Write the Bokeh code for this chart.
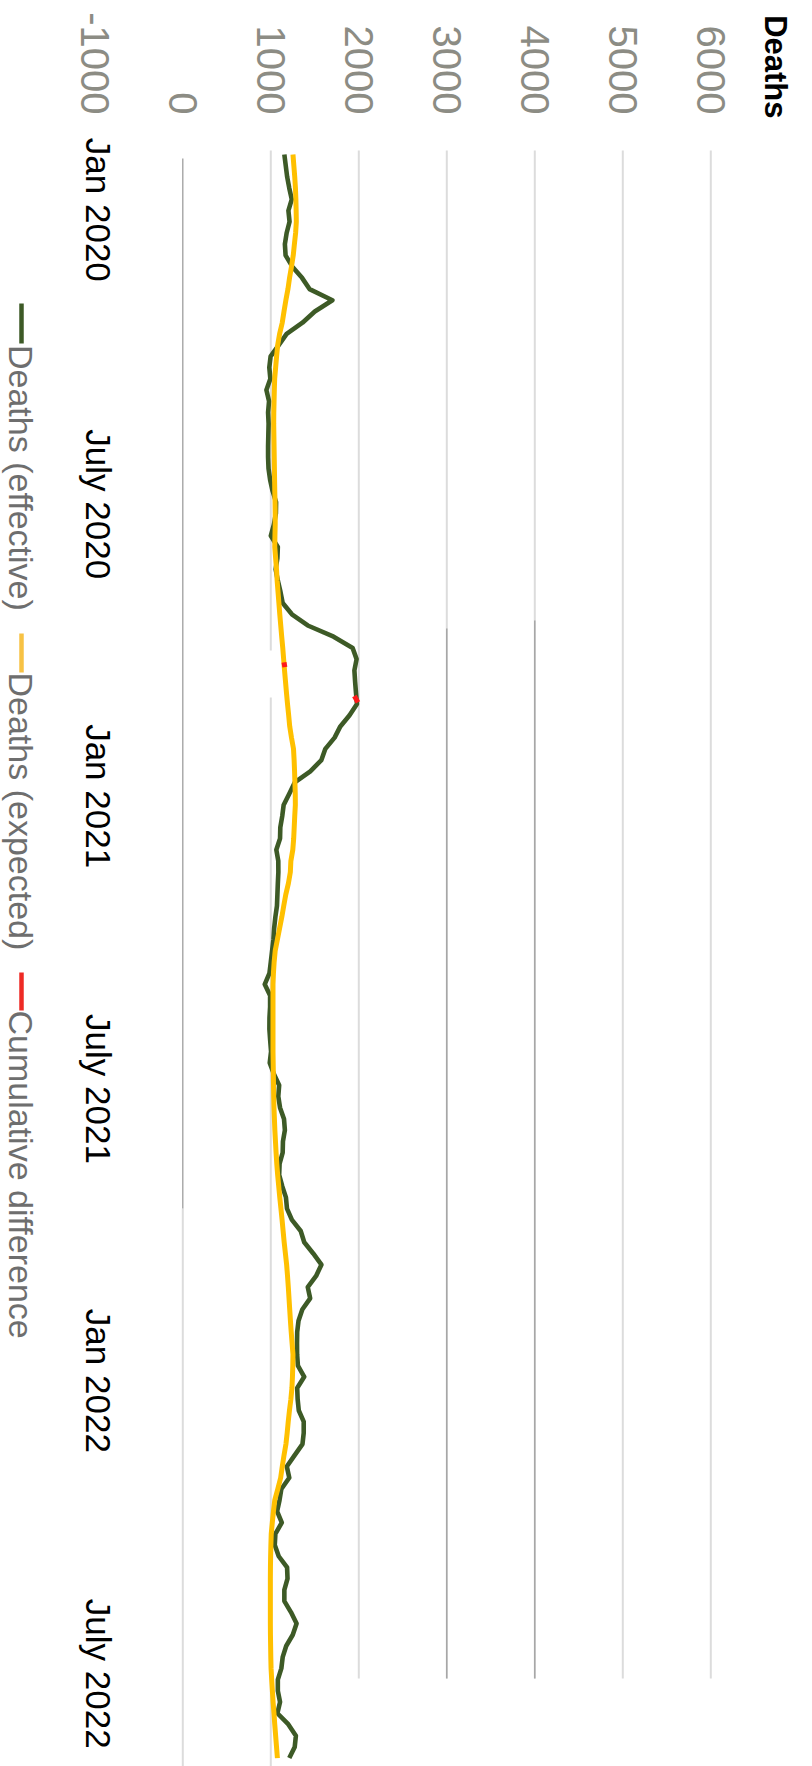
import math
from datetime import datetime, timedelta

from bokeh.plotting import figure
from bokeh.models import Range1d, Label, Arrow
from bokeh.embed import file_html
from bokeh.resources import INLINE

# ---------------- data ----------------
deaths_effective = [
    1154, 1170, 1186, 1210, 1238, 1200, 1213, 1180, 1160, 1168,
    1245, 1355, 1440, 1700, 1500, 1360, 1180, 1090, 998, 983,
    995, 950, 980, 969, 975, 972, 969, 969, 974, 992,
    1020, 1060, 1058, 1035, 1000, 1080, 1075, 1055, 1080, 1110,
    1135, 1240, 1420, 1714, 1930, 1975, 1950, 1958, 1968, 1979,
    1895, 1790, 1725, 1620, 1575, 1449, 1272, 1210, 1146, 1130,
    1108, 1105, 1063, 1085, 1086, 1080, 1075, 1070, 1052, 1038,
    1030, 1015, 1000, 985, 931, 992, 992, 985, 984, 993,
    1003, 988, 1035, 1095, 1085, 1105, 1150, 1160, 1138, 1135,
    1100, 1095, 1130, 1172, 1184, 1240, 1340, 1380, 1482, 1575,
    1515, 1420, 1447, 1358, 1315, 1300, 1298, 1299, 1308, 1380,
    1300, 1305, 1318, 1374, 1374, 1360, 1270, 1182, 1210, 1120,
    1099, 1072, 1125, 1052, 1045, 1090, 1185, 1190, 1154, 1154,
    1230, 1293, 1250, 1175, 1135, 1120, 1080, 1080, 1105, 1075,
    1200, 1285, 1272, 1210,
]
deaths_expected = [
    1252, 1262, 1272, 1280, 1285, 1288, 1290, 1282, 1268, 1255,
    1235, 1213, 1195, 1171, 1150, 1130, 1100, 1078, 1066, 1055,
    1044, 1040, 1037, 1034, 1033, 1035, 1037, 1039, 1041, 1043,
    1045, 1048, 1050, 1050, 1047, 1045, 1055, 1065, 1072, 1082,
    1092, 1102, 1113, 1124, 1136, 1146, 1156, 1167, 1178, 1190,
    1203, 1215, 1235, 1258, 1265, 1270, 1274, 1278, 1279, 1272,
    1266, 1260, 1250, 1228, 1222, 1200, 1170, 1147, 1125, 1100,
    1075, 1050, 1038, 1030, 1025, 1025, 1025, 1025, 1025, 1025,
    1025, 1027, 1029, 1031, 1033, 1036, 1041, 1046, 1053, 1060,
    1068, 1078, 1090, 1102, 1115, 1128, 1140, 1152, 1166, 1180,
    1190, 1199, 1207, 1215, 1223, 1232, 1242, 1252, 1250, 1246,
    1240, 1228, 1212, 1198, 1186, 1172, 1150, 1130, 1112, 1080,
    1045, 1030, 1017, 1005, 1001, 998, 996, 995, 995, 995,
    995, 995, 996, 998, 1000, 1003, 1010, 1018, 1026, 1036,
    1045, 1055, 1065, 1075,
]
first_week = datetime(2020, 1, 3)
week_dates = [first_week + timedelta(days=7 * i) for i in range(len(deaths_effective))]

# only tiny fragments of the cumulative-difference series are visible
cumdiff_dates = [["2020-11-15", "2020-11-18"], ["2020-12-06", "2020-12-10"]]
cumdiff_values = [[1150, 1160], [1950, 1990]]

value_ticks = [-1000, 0, 1000, 2000, 3000, 4000, 5000, 6000]
value_tick_labels = ["-1000", "0", "1000", "2000", "3000", "4000", "5000", "6000"]
grid_ticks = [1000, 2000, 3000, 4000, 5000, 6000]
date_ticks = [datetime(2020, 1, 1), datetime(2020, 7, 1), datetime(2021, 1, 1),
              datetime(2021, 7, 1), datetime(2022, 1, 1), datetime(2022, 7, 1)]
date_tick_labels = ["Jan 2020", "July 2020", "Jan 2021", "July 2021", "Jan 2022", "July 2022"]

legend_labels = ["Deaths (effective)", "Deaths (expected)", "Cumulative difference"]

# ---------------- styles / layout ----------------
GREEN = "#3d5a26"
YELLOW = "#ffc000"
RED = "#ee2a24"
FONT = "Liberation Sans"
GRID_LIGHT = "#dcdcdc"
GRID_DARK = "#9e9e9e"

W, H = 812, 1766
ZERO_X = 182.3          # pixel column of deaths = 0
PX_PER_DEATH = 0.088
FIRST_Y = 154           # pixel row of the first weekly value
PX_PER_DAY = 1.602
PLOT_TOP_Y = 150


def deaths_at(px):
    return (px - ZERO_X) / PX_PER_DEATH


def date_at(py):
    return first_week + timedelta(days=(py - FIRST_Y) / PX_PER_DAY)


p = figure(width=W, height=H, output_backend="svg", toolbar_location=None,
           x_range=Range1d(deaths_at(0), deaths_at(W)),
           y_range=Range1d(date_at(H), date_at(0)),
           x_axis_location=None, y_axis_location=None,
           min_border_left=0, min_border_right=0, min_border_top=0, min_border_bottom=0)
p.outline_line_color = None
p.xgrid.visible = False
p.ygrid.visible = False

# grid lines (light), with the rendering quirks of the original:
# the 1000 line has a short gap, lines from 2000 up stop early.
grid_top = date_at(PLOT_TOP_Y)
grid_end_long = date_at(H)
grid_end_short = date_at(1678)
gx0, gy0, gx1, gy1 = [], [], [], []
for v in grid_ticks:
    if v == 1000:
        gx0 += [v, v]; gx1 += [v, v]
        gy0 += [grid_top, date_at(697)]
        gy1 += [date_at(650), grid_end_long]
    else:
        gx0.append(v); gx1.append(v)
        gy0.append(grid_top)
        gy1.append(grid_end_short)
p.segment(x0=gx0, y0=gy0, x1=gx1, y1=gy1, line_color=GRID_LIGHT, line_width=2)

# zero line: dark in its upper part, light below
p.segment(x0=[0], y0=[date_at(1208)], x1=[0], y1=[grid_end_long],
          line_color=GRID_LIGHT, line_width=2)
p.segment(x0=[0], y0=[date_at(158)], x1=[0], y1=[date_at(1208)],
          line_color=GRID_DARK, line_width=1.3)
# darker stretches on the 3000 and 4000 lines
p.segment(x0=[3000, 4000], y0=[date_at(628), date_at(620)], x1=[3000, 4000],
          y1=[grid_end_short, grid_end_short], line_color=GRID_DARK, line_width=1.3)

# series
p.line(deaths_effective, week_dates, line_color=GREEN, line_width=4.6, line_join="round")
p.line(deaths_expected, week_dates, line_color=YELLOW, line_width=5, line_join="round")
p.multi_line(cumdiff_values,
             [[datetime.fromisoformat(d) for d in seg] for seg in cumdiff_dates],
             line_color="#ff1a1a", line_width=5)

# value tick labels (top)
for v, txt in zip(value_ticks, value_tick_labels):
    p.add_layout(Label(x=v, y=H - 114, x_units="data", y_units="screen", text=txt,
                       angle=-math.pi / 2, text_align="right", text_baseline="middle",
                       text_font=FONT, text_font_size="40px", text_color="#8c8c84"))

# date tick labels
LABEL_SHIFT_PX = 13.5
for d, txt in zip(date_ticks, date_tick_labels):
    p.add_layout(Label(x=98, y=d - timedelta(days=LABEL_SHIFT_PX / PX_PER_DAY),
                       x_units="screen", y_units="data", text=txt,
                       angle=-math.pi / 2, text_align="left", text_baseline="middle",
                       text_font=FONT, text_font_size="35px", text_color="#000000"))

# axis title
p.add_layout(Label(x=775, y=H - 118, x_units="screen", y_units="screen", text="Deaths",
                   angle=-math.pi / 2, text_align="right", text_baseline="alphabetic",
                   text_font=FONT, text_font_size="31px", text_font_style="bold",
                   text_color="#000000"))

# legend (rotated)
legend_colors = [GREEN, "#f7c244", RED]
marker_rows = [(303, 343), (633, 672), (972, 1010)]
text_rows = [344.5, 672, 1010]
for lab, col, (r0, r1), tr in zip(legend_labels, legend_colors, marker_rows, text_rows):
    p.add_layout(Arrow(x_start=21, y_start=H - r0, x_end=21, y_end=H - r1,
                       start_units="screen", end_units="screen", end=None,
                       line_color=col, line_width=4.5))
    p.add_layout(Label(x=20, y=H - tr, x_units="screen", y_units="screen", text=lab,
                       angle=-math.pi / 2, text_align="left", text_baseline="middle",
                       text_font=FONT, text_font_size="34px", text_color="#6e6e6e"))

open("out.html", "w").write(file_html(p, INLINE))
